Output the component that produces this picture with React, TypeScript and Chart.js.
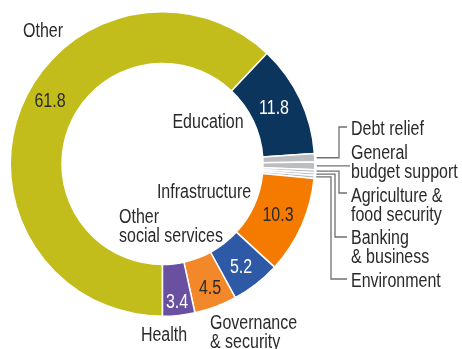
import React, { useEffect, useRef } from "react";
import { Chart, registerables } from "chart.js";

Chart.register(...registerables);

const categories = [
  "Other",
  "Education",
  "Debt relief",
  "General budget support",
  "Agriculture & food security",
  "Banking & business",
  "Environment",
  "Infrastructure",
  "Other social services",
  "Governance & security",
  "Health",
];
const shares = [61.8, 11.8, 0.9, 0.8, 0.3, 0.3, 0.3, 10.3, 5.2, 4.5, 3.4];
const valueLabels = ["61.8", "11.8", "", "", "", "", "", "10.3", "5.2", "4.5", "3.4"];
const colors = [
  "#C3BD1C",
  "#0C355E",
  "#BCBDC0",
  "#BCBDC0",
  "#BCBDC0",
  "#BCBDC0",
  "#BCBDC0",
  "#F47B00",
  "#2D59A7",
  "#F2882A",
  "#6950A1",
];

const FONT = '19.5px "Liberation Sans", Arial, sans-serif';
const NARROW = 0.82;
const TEXT = "#2a2a2a";

// label layout (offsets from the ring centre), one entry per category
const nameLayout: { lines: string[]; dx: number; dy: number; align: CanvasTextAlign }[] = [
  { lines: ["Other"], dx: -119.5, dy: -134, align: "center" },
  { lines: ["Education"], dx: 45.5, dy: -43, align: "center" },
  { lines: ["Debt relief"], dx: 188.5, dy: -36, align: "left" },
  { lines: ["General", "budget support"], dx: 188.5, dy: -12, align: "left" },
  { lines: ["Agriculture &", "food security"], dx: 188.5, dy: 31, align: "left" },
  { lines: ["Banking", "& business"], dx: 188.5, dy: 73, align: "left" },
  { lines: ["Environment"], dx: 188.5, dy: 116, align: "left" },
  { lines: ["Infrastructure"], dx: 41.5, dy: 27, align: "center" },
  { lines: ["Other", "social services"], dx: -43.5, dy: 52, align: "left" },
  { lines: ["Governance", "& security"], dx: 47.5, dy: 158, align: "left" },
  { lines: ["Health"], dx: 1.5, dy: 170, align: "center" },
];
const valueLayout: { dx: number; dy: number; color: string }[] = [
  { dx: -112.5, dy: -64, color: TEXT },
  { dx: 111.5, dy: -57, color: "#ffffff" },
  { dx: 0, dy: 0, color: TEXT },
  { dx: 0, dy: 0, color: TEXT },
  { dx: 0, dy: 0, color: TEXT },
  { dx: 0, dy: 0, color: TEXT },
  { dx: 0, dy: 0, color: TEXT },
  { dx: 115.5, dy: 50, color: TEXT },
  { dx: 78.5, dy: 102, color: "#ffffff" },
  { dx: 47.5, dy: 123, color: TEXT },
  { dx: 14.5, dy: 137, color: "#ffffff" },
];
// leader lines for the thin slices: elbow x and target y (offsets from centre)
const leaders: { index: number; elbowDx: number | null; targetDy: number; endDx: number }[] = [
  { index: 2, elbowDx: 176.5, targetDy: -37, endDx: 184.5 },
  { index: 3, elbowDx: null, targetDy: 0, endDx: 187.5 },
  { index: 4, elbowDx: 176.5, targetDy: 29, endDx: 184.5 },
  { index: 5, elbowDx: 172.5, targetDy: 73, endDx: 184.5 },
  { index: 6, elbowDx: 168.5, targetDy: 115, endDx: 184.5 },
];

function drawNarrow(ctx: CanvasRenderingContext2D, text: string, x: number, y: number, align: CanvasTextAlign) {
  ctx.save();
  ctx.translate(x, y);
  ctx.scale(NARROW, 1);
  ctx.textAlign = align;
  ctx.fillText(text, 0, 0);
  ctx.restore();
}

const labelPlugin = {
  id: "donutLabels",
  afterDraw(chart: any) {
    const ctx = chart.ctx as CanvasRenderingContext2D;
    const meta = chart.getDatasetMeta(0);
    const arcs = meta.data;
    if (!arcs.length) return;
    const cx = arcs[0].x;
    const cy = arcs[0].y;
    ctx.save();
    // leader lines
    ctx.strokeStyle = "#6f7072";
    ctx.lineWidth = 1.3;
    leaders.forEach((l) => {
      const a = arcs[l.index];
      const p = a.getProps(["startAngle", "endAngle", "outerRadius"], true);
      const mid = (p.startAngle + p.endAngle) / 2;
      const sx = cx + p.outerRadius * Math.cos(mid) + 2;
      const sy = cy + p.outerRadius * Math.sin(mid);
      ctx.beginPath();
      ctx.moveTo(sx, sy);
      if (l.elbowDx === null) {
        ctx.lineTo(cx + l.endDx, sy);
      } else {
        ctx.lineTo(cx + l.elbowDx, sy);
        ctx.lineTo(cx + l.elbowDx, cy + l.targetDy);
        ctx.lineTo(cx + l.endDx, cy + l.targetDy);
      }
      ctx.stroke();
    });
    ctx.font = FONT;
    ctx.textBaseline = "alphabetic";
    // names
    nameLayout.forEach((n) => {
      ctx.fillStyle = TEXT;
      n.lines.forEach((line, i) => {
        drawNarrow(ctx, line, cx + n.dx, cy + n.dy + i * 19 + 7, n.align);
      });
    });
    // values
    valueLabels.forEach((v, i) => {
      if (!v) return;
      const vl = valueLayout[i];
      ctx.fillStyle = vl.color;
      drawNarrow(ctx, v, cx + vl.dx, cy + vl.dy + 7, "center");
    });
    ctx.restore();
  },
};

export default function App() {
  const ref = useRef<HTMLCanvasElement>(null);
  useEffect(() => {
    if (!ref.current) return;
    const chart = new Chart(ref.current, {
      type: "doughnut",
      data: {
        labels: categories,
        datasets: [
          {
            data: shares,
            backgroundColor: colors,
            borderColor: "#ffffff",
            borderWidth: 1.5,
            hoverBorderWidth: 1.5,
            hoverOffset: 0,
          },
        ],
      },
      options: {
        responsive: false,
        animation: false,
        devicePixelRatio: 1,
        rotation: 180,
        cutout: "66%",
        layout: { padding: { left: 9.5, top: 11, right: 146.5, bottom: 32 } },
        plugins: {
          legend: { display: false },
          tooltip: { enabled: false },
          title: { display: false },
        },
        events: [],
      },
      plugins: [labelPlugin],
    });
    return () => chart.destroy();
  }, []);
  return (
    <div style={{ position: "absolute", left: 0, top: 0, width: 462, height: 349, background: "#fff" }}>
      <canvas ref={ref} width={462} height={349} style={{ display: "block" }} />
    </div>
  );
}
